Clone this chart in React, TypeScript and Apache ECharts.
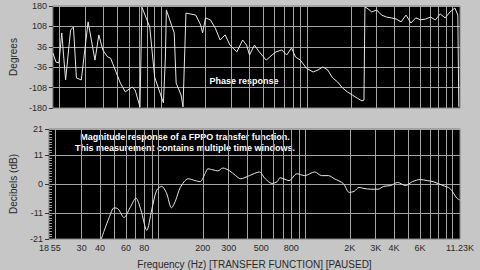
import React, { useEffect, useRef } from 'react';
import * as echarts from 'echarts';

const phaseFreq = [18, 18.9, 19.8, 20.7, 22.0, 23.8, 24.9, 26.1, 28.2, 31.4, 35.0, 37.2, 39.6, 42.8, 44.8, 52.3, 56.5, 63.0, 66.0, 71.3, 73.5, 83.2, 89.9, 103.3, 106.6, 108.2, 122.5, 126.3, 136.5, 140.8, 147.5, 172.2, 186, 191.8, 200.9, 217.1, 234.5, 253.3, 273.7, 295.8, 329.6, 361.5, 384.6, 402.9, 435.4, 470.3, 524.2, 575.2, 611.7, 671.2, 725.1, 783.2, 833.4, 900.3, 987.9, 1101, 1189, 1285, 1388, 1500, 1620, 1751, 1891, 2044, 2208, 2385, 2460, 2498, 2576, 2783, 3008, 3250, 3511, 3793, 4098, 4427, 4783, 5168, 5583, 6032, 6516, 7040, 7605, 8216, 8876, 9592, 10360, 10850, 11020];
const phaseDeg = [14, -18, -21, 85, -81, 95, 106, -74, -81, 124, -11, 78, 25, 0, -4, -92, -123, -106, -116, -176, 176, 106, -71, -162, 0, 166, 85, -92, -134, -176, 155, 148, 113, 85, 138, 131, 102, 60, 78, 42, 18, 60, 42, 7, 42, 18, -11, 7, 18, 25, 7, 32, 0, -11, -39, -53, -46, -35, -46, -74, -88, -109, -123, -134, -145, -155, -152, 176, 173, 159, 166, 148, 141, 138, 134, 124, 148, 120, 138, 131, 134, 141, 131, 152, 138, 159, 173, 148, -176];

const magFreq = [40.8, 42.8, 46.2, 49.9, 53.1, 58.3, 64, 70.2, 75.9, 83.2, 89.9, 97.1, 105, 113.4, 122.5, 130.3, 140.8, 159.3, 177.5, 191.8, 207.2, 217.1, 234.5, 253.3, 273.7, 305, 334.6, 361.5, 415.5, 485.1, 532.2, 593.1, 640.9, 671.2, 771.4, 873, 987.9, 1153, 1285, 1432, 1571, 1805, 1981, 2140, 2312, 2498, 2783, 3101, 3404, 3793, 4226, 4783, 5330, 6032, 6722, 7375, 8604, 9592, 10690, 11190];
const magDb = [-21, -17.7, -12.8, -9.1, -9.5, -12.8, -9.1, -5.4, -9.9, -17.7, -9.9, -2.4, -0.9, -3.5, -9.1, -6.5, -1.3, 2.0, 1.3, 0.9, 3.9, 5.8, 5.4, 5.0, 6.1, 5.0, 3.2, 2.0, 3.2, 4.6, 2.0, 0.2, 0.9, 2.4, 1.3, 3.9, 3.2, 4.6, 3.2, 3.2, 2.0, 0.2, -3.2, -2.8, -1.3, -1.7, -2.0, -2.0, -0.9, -0.6, 0.6, -0.6, 0.9, 1.7, 1.3, 0.9, -0.6, -1.7, -5.4, -6.1];

const gridFreqs = [20, 30, 40, 50, 60, 70, 80, 90, 100, 200, 300, 400, 500, 600, 700, 800, 900, 1000, 2000, 3000, 4000, 5000, 6000, 7000, 8000, 9000, 10000];
const freqLabelValues = [18, 20, 30, 40, 60, 80, 200, 300, 500, 800, 2000, 3000, 4000, 6000, 11230];
const freqLabelTexts = ['18', '55', '30', '40', '60', '80', '200', '300', '500', '800', '2K', '3K', '4K', '6K', '11.23K'];
const phaseTicks = [-180, -108, -36, 36, 108, 180];
const dbTicks = [-21, -11, 0, 11, 21];

const F_MIN = 18;
const F_MAX = 11230;

export default function App() {
  const ref = useRef<HTMLDivElement>(null);
  useEffect(() => {
    document.body.style.margin = '0';
    if (!ref.current) return;
    const chart = echarts.init(ref.current, undefined, { renderer: 'svg' });
    const lg = (f: number) => Math.log10(f);
    const labelColor = '#2a2a2a';
    const gridLine = { show: true, lineStyle: { color: '#a4a4a4', width: 1 } };
    const font = 'Liberation Sans, Arial, sans-serif';
    const labelMap = (v: number) => {
      let best = 0;
      let bd = Infinity;
      freqLabelValues.forEach((f, i) => {
        const d = Math.abs(lg(f) - v);
        if (d < bd) { bd = d; best = i; }
      });
      return freqLabelTexts[best];
    };
    const xBase = (gridIndex: number, labels: boolean) => ({
      type: 'value',
      gridIndex,
      min: lg(F_MIN),
      max: lg(F_MAX),
      axisLine: { show: false },
      axisTick: { show: false, customValues: gridFreqs.map(lg) },
      splitLine: gridLine,
      axisLabel: labels
        ? {
            show: true,
            customValues: freqLabelValues.map(lg),
            formatter: (v: number) => labelMap(v),
            color: labelColor,
            fontSize: 9,
            fontFamily: font,
            margin: 4,
            alignMinLabel: 'right',
          }
        : { show: false },
      name: labels ? 'Frequency (Hz) [TRANSFER FUNCTION] [PAUSED]' : '',
      nameLocation: 'middle',
      nameGap: 20,
      nameTextStyle: { color: labelColor, fontSize: 10, fontFamily: font },
    });
    chart.setOption({
      animation: false,
      backgroundColor: '#c6c6c6',
      grid: [
        { left: 44, right: 20, top: 6, height: 102, show: true, backgroundColor: '#000', borderColor: '#808080', borderWidth: 1 },
        { left: 44, right: 20, top: 129, height: 113, show: true, backgroundColor: '#000', borderColor: '#808080', borderWidth: 1 },
      ],
      xAxis: [xBase(0, false), xBase(1, true)],
      yAxis: [
        {
          type: 'value', gridIndex: 0, min: -180, max: 180,
          axisLine: { show: false },
          axisTick: { show: true, length: 4, customValues: phaseTicks, lineStyle: { color: '#333' } },
          axisLabel: { customValues: phaseTicks, color: labelColor, fontSize: 9, fontFamily: font, margin: 6 },
          splitLine: gridLine,
          name: 'Degrees', nameLocation: 'middle', nameGap: 34,
          nameTextStyle: { color: labelColor, fontSize: 10, fontFamily: font },
        },
        {
          type: 'value', gridIndex: 1, min: -21, max: 21,
          axisLine: { show: false },
          axisTick: { show: true, length: 4, customValues: dbTicks, lineStyle: { color: '#333' } },
          axisLabel: { customValues: dbTicks, color: labelColor, fontSize: 9, fontFamily: font, margin: 6 },
          splitLine: gridLine,
          name: 'Decibels (dB)', nameLocation: 'middle', nameGap: 31,
          nameTextStyle: { color: labelColor, fontSize: 10, fontFamily: font },
        },
        {
          type: 'value', gridIndex: 1, min: -21, max: 21, interval: 1, position: 'left',
          axisLine: { show: false },
          axisTick: { show: true, inside: true, length: 3, lineStyle: { color: '#9a9a9a' } },
          axisLabel: { show: false },
          splitLine: { show: false },
        },
      ],
      series: [
        {
          type: 'line', xAxisIndex: 0, yAxisIndex: 0, showSymbol: false,
          lineStyle: { color: '#e6e6e6', width: 1 },
          data: phaseFreq.map((f, i) => [lg(f), phaseDeg[i]]),
        },
        {
          type: 'line', xAxisIndex: 1, yAxisIndex: 1, showSymbol: false, smooth: 0.3,
          lineStyle: { color: '#e6e6e6', width: 1 },
          data: magFreq.map((f, i) => [lg(f), magDb[i]]),
        },
      ],
      graphic: [
        { type: 'text', x: 244, y: 81, style: { text: 'Phase response', fill: '#fff', font: 'bold 9px Liberation Sans, Arial, sans-serif', align: 'center', verticalAlign: 'middle' } },
        { type: 'text', x: 185, y: 137, style: { text: 'Magnitude response of a FPPO transfer function.', fill: '#fff', font: 'bold 9px Liberation Sans, Arial, sans-serif', align: 'center', verticalAlign: 'middle' } },
        { type: 'text', x: 185, y: 148, style: { text: 'This measurement contains multiple time windows.', fill: '#fff', font: 'bold 9px Liberation Sans, Arial, sans-serif', align: 'center', verticalAlign: 'middle' } },
      ],
    });
    return () => chart.dispose();
  }, []);
  return <div ref={ref} style={{ width: 480, height: 270, position: 'fixed', left: 0, top: 0 }} />;
}
